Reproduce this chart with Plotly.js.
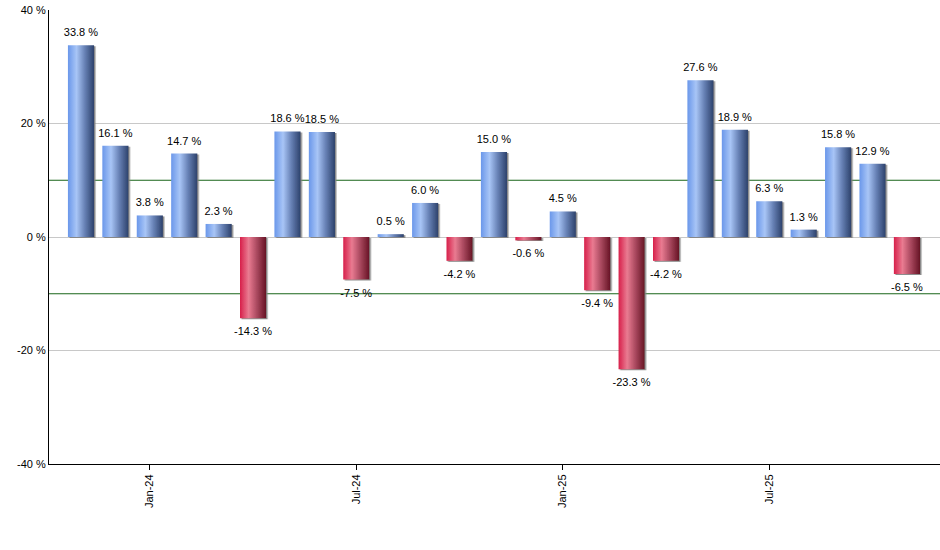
<!DOCTYPE html>
<html>
<head>
<meta charset="utf-8">
<script src="https://cdn.plot.ly/plotly-3.0.1.min.js"></script>
<style>
html,body{margin:0;padding:0;background:#fff;}
#chart{width:940px;height:550px;}
</style>
</head>
<body>
<div id="chart"></div>
<script>
const months = ["Nov-23","Dec-23","Jan-24","Feb-24","Mar-24","Apr-24","May-24","Jun-24","Jul-24","Aug-24","Sep-24","Oct-24","Nov-24","Dec-24","Jan-25","Feb-25","Mar-25","Apr-25","May-25","Jun-25","Jul-25","Aug-25","Sep-25","Oct-25","Nov-25"];
const values = [33.8,16.1,3.8,14.7,2.3,-14.3,18.6,18.5,-7.5,0.5,6.0,-4.2,15.0,-0.6,4.5,-9.4,-23.3,-4.2,27.6,18.9,6.3,1.3,15.8,12.9,-6.5];
const tickMonths = ["Jan-24","Jul-24","Jan-25","Jul-25"];
const yTicks = [-40,-20,0,20,40];
const refLines = [10,-10];

const labels = values.map(v => v.toFixed(1) + " %");
const colors = values.map(v => v >= 0 ? "#6f9be8" : "#d8244c");

const trace = {
  type: "bar",
  x: months,
  y: values,
  text: labels,
  textposition: "outside",
  constraintext: "none",
  textfont: {family: "Liberation Sans, Arial, sans-serif", size: 11, color: "#000"},
  cliponaxis: false,
  marker: {color: colors, line: {width: 0}},
  width: 0.76,
  hoverinfo: "x+y"
};

const layout = {
  width: 940, height: 550,
  margin: {l: 49, r: 0, t: 10, b: 86},
  paper_bgcolor: "#fff", plot_bgcolor: "#fff",
  showlegend: false,
  font: {family: "Liberation Sans, Arial, sans-serif", size: 11, color: "#000"},
  xaxis: {
    type: "category",
    range: [-0.93, 24.96],
    tickmode: "array",
    tickvals: tickMonths,
    ticktext: tickMonths,
    tickangle: -90,
    ticks: "outside", ticklen: 5, tickcolor: "#000",
    showline: true, linecolor: "#000", linewidth: 1,
    showgrid: false, zeroline: false,
    tickfont: {size: 11}
  },
  yaxis: {
    range: [-40, 40],
    tickmode: "array",
    tickvals: yTicks,
    ticktext: yTicks.map(v => v + " %"),
    showgrid: true, gridcolor: "#c8c8c8", gridwidth: 1,
    zeroline: true, zerolinecolor: "#c8c8c8", zerolinewidth: 1,
    showline: true, linecolor: "#000", linewidth: 1,
    ticks: "", tickfont: {size: 11}
  },
  shapes: refLines.map(v => ({
    type: "line", xref: "paper", yref: "y", x0: 0, x1: 1, y0: v, y1: v,
    line: {color: "#1a661a", width: 1}, layer: "below"
  }))
};

Plotly.newPlot("chart", [trace], layout, {displayModeBar: false, staticPlot: true}).then(gd => {
  const svg = gd.querySelector(".main-svg");
  const ns = "http://www.w3.org/2000/svg";
  let defs = svg.querySelector("defs");
  if (!defs) { defs = document.createElementNS(ns, "defs"); svg.insertBefore(defs, svg.firstChild); }
  function grad(id, stops) {
    const g = document.createElementNS(ns, "linearGradient");
    g.setAttribute("id", id);
    g.setAttribute("x1", "0"); g.setAttribute("x2", "1");
    g.setAttribute("y1", "0"); g.setAttribute("y2", "0");
    stops.forEach(([o, c]) => {
      const s = document.createElementNS(ns, "stop");
      s.setAttribute("offset", o); s.setAttribute("stop-color", c);
      g.appendChild(s);
    });
    defs.appendChild(g);
  }
  grad("gBlue", [["0", "#6a97ea"], ["0.33", "#a8c5f6"], ["0.65", "#6680b4"], ["1", "#2c416b"]]);
  grad("gRed", [["0", "#d71f4a"], ["0.33", "#e97b91"], ["0.65", "#a9485e"], ["1", "#661324"]]);
  const f = document.createElementNS(ns, "filter");
  f.setAttribute("id", "bshadow");
  f.setAttribute("x", "-10%"); f.setAttribute("y", "-10%");
  f.setAttribute("width", "130%"); f.setAttribute("height", "120%");
  const ds = document.createElementNS(ns, "feDropShadow");
  ds.setAttribute("dx", "1.5"); ds.setAttribute("dy", "1");
  ds.setAttribute("stdDeviation", "0.4");
  ds.setAttribute("flood-color", "#808080"); ds.setAttribute("flood-opacity", "0.9");
  f.appendChild(ds);
  defs.appendChild(f);
  const points = gd.querySelectorAll(".trace.bars .point");
  points.forEach((pt, i) => {
    const p = pt.querySelector("path");
    if (p) {
      p.style.fill = values[i] >= 0 ? "url(#gBlue)" : "url(#gRed)";
      p.setAttribute("filter", "url(#bshadow)");
    }
    const t = pt.querySelector("text");
    if (t) {
      const tr = t.getAttribute("transform") || "";
      t.setAttribute("transform", "translate(0," + (values[i] >= 0 ? -4 : 4) + ") " + tr);
    }
  });
});
</script>
</body>
</html>
